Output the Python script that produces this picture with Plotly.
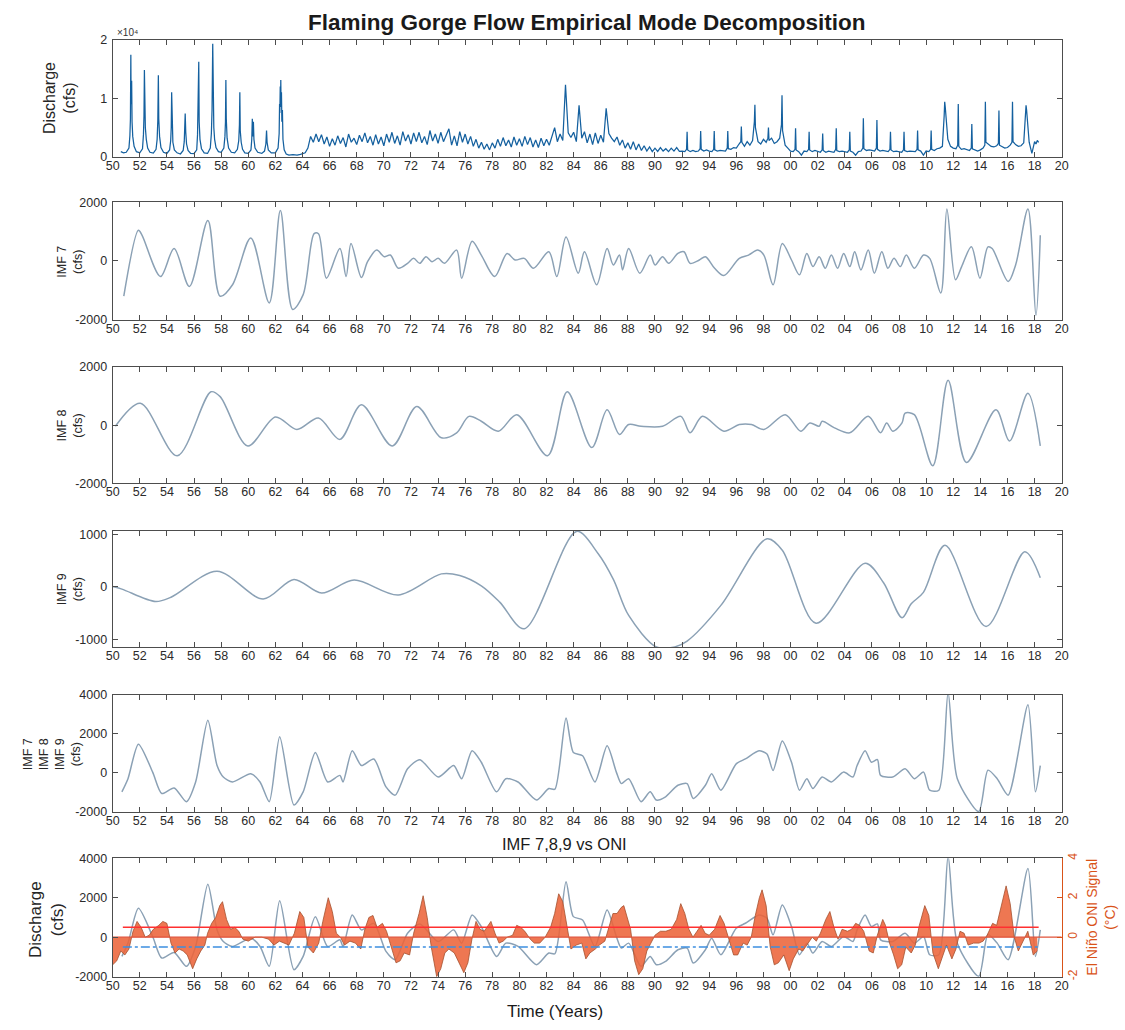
import plotly.graph_objects as go

FONT = "Liberation Sans, Arial, Helvetica, sans-serif"

# ---------------- Discharge record (cfs) ----------------
# pre-dam spring snowmelt years
pre_dam_t = [1950.60, 1950.80, 1951.00, 1951.20, 1951.27, 1951.31, 1951.34, 1951.36, 1951.40, 1951.43,
             1951.48, 1951.58, 1951.75, 1952.00, 1952.20, 1952.27, 1952.31, 1952.34, 1952.37, 1952.41,
             1952.48, 1952.58, 1952.75, 1953.00, 1953.20, 1953.28, 1953.33, 1953.37, 1953.40, 1953.46,
             1953.56, 1953.75, 1954.00, 1954.20, 1954.28, 1954.32, 1954.35, 1954.38, 1954.44, 1954.55,
             1954.75, 1955.00, 1955.20, 1955.28, 1955.32, 1955.35, 1955.39, 1955.45, 1955.56, 1955.75,
             1956.00, 1956.20, 1956.26, 1956.28, 1956.31, 1956.35, 1956.38, 1956.44, 1956.55, 1956.75,
             1957.00, 1957.20, 1957.28, 1957.33, 1957.38, 1957.41, 1957.46, 1957.52, 1957.62, 1957.80,
             1958.00, 1958.20, 1958.28, 1958.32, 1958.35, 1958.38, 1958.44, 1958.55, 1958.75, 1959.00,
             1959.20, 1959.30, 1959.35, 1959.38, 1959.41, 1959.48, 1959.58, 1959.75, 1960.00, 1960.20,
             1960.26, 1960.30, 1960.33, 1960.38, 1960.42, 1960.50, 1960.70, 1961.00, 1961.20, 1961.30,
             1961.35, 1961.39, 1961.48, 1961.70, 1962.00, 1962.20, 1962.28, 1962.31, 1962.33, 1962.36,
             1962.38, 1962.40, 1962.42, 1962.45, 1962.48, 1962.52, 1962.56, 1962.65, 1962.80, 1963.00,
             1963.30, 1963.60, 1963.85]
pre_dam_q = [900, 700, 800, 1500, 3600, 6500, 17400, 9000, 13000, 6000,
             3500, 1800, 900, 700, 1400, 3800, 7000, 14800, 8000, 5000,
             3000, 1500, 800, 650, 1300, 3000, 6200, 13900, 6500, 3500,
             1600, 800, 600, 1200, 2800, 5000, 11000, 5500, 2500, 1200,
             700, 500, 1100, 2600, 4500, 7400, 4200, 2200, 1100, 600,
             550, 1200, 3800, 6500, 5000, 16200, 6000, 3000, 1400, 700,
             600, 1500, 4000, 8000, 19300, 9500, 5000, 3000, 1600, 900,
             800, 1500, 3500, 6000, 13100, 6500, 3200, 1500, 800, 700,
             1300, 2800, 5500, 11000, 4500, 2500, 1300, 700, 600, 1200,
             3000, 6500, 3500, 6000, 3000, 1500, 800, 600, 1000, 2200,
             4500, 2500, 1200, 700, 700, 1500, 4000, 9000, 7500, 12000,
             8500, 13100, 9000, 11000, 6000, 8000, 3000, 1200, 500, 300,
             400, 300, 450]

# regulated releases 1964-1991, sampled five times a year
band_years = list(range(1964, 1992))
band_offsets = [0.0, 0.2, 0.4, 0.6, 0.8]
band_q = [
    [600, 700, 1500, 3500, 2500],
    [3900, 2600, 3800, 2200, 3400],
    [1800, 3100, 2000, 3600, 2300],
    [3300, 1700, 3900, 2500, 3200],
    [2100, 3700, 2600, 4100, 2400],
    [3500, 2000, 3800, 2200, 3400],
    [1900, 3900, 2500, 4200, 2300],
    [3600, 2000, 4300, 2700, 3800],
    [2200, 4100, 2600, 4200, 2400],
    [3500, 2100, 4500, 2700, 3900],
    [2300, 4200, 2600, 3800, 4800],
    [2000, 3600, 1900, 4300, 2500],
    [3900, 2200, 3500, 1800, 3000],
    [1500, 2500, 1300, 2200, 1200],
    [2400, 1500, 3000, 1800, 3300],
    [1900, 2900, 1700, 3400, 2000],
    [3100, 1800, 3500, 2100, 3300],
    [1700, 2900, 1600, 3200, 1900],
    [3000, 2000, 3600, 5000, 2600],
    [3900, 2800, 12300, 4100, 3300],
    [4200, 2600, 8800, 3200, 4300],
    [2400, 3900, 2100, 4100, 2300],
    [3700, 2500, 8300, 4000, 3200],
    [2600, 3400, 2000, 2900, 1500],
    [2400, 1300, 2600, 1200, 2200],
    [1100, 1900, 1000, 1700, 900],
    [1500, 950, 1600, 1000, 1400],
    [900, 1500, 1000, 1600, 950],
]

# 1992-2017 releases with the spring peak-flow pulse
release_years = list(range(1992, 2018))
release_offsets = [0.00, 0.20, 0.33, 0.37, 0.41, 0.60, 0.80]
release_q = [
    [1000, 900, 1300, 4300, 1200, 900, 1100],
    [900, 1000, 1400, 4400, 1300, 1000, 1200],
    [1000, 900, 1300, 4400, 1200, 1000, 1100],
    [1100, 1000, 1500, 4400, 1400, 1300, 1600],
    [1500, 2200, 2600, 5200, 2500, 1800, 2600],
    [2000, 2800, 6000, 8900, 5000, 2600, 2200],
    [3000, 2500, 3200, 5000, 2800, 3200, 2300],
    [2600, 3200, 5500, 10500, 4500, 2000, 1500],
    [1000, 900, 1300, 4900, 1200, 900, 300],
    [1000, 900, 1300, 4300, 1200, 900, 1100],
    [900, 800, 1200, 4000, 1100, 800, 1000],
    [900, 800, 1300, 4900, 1100, 900, 1000],
    [900, 800, 1200, 4300, 1000, 800, 300],
    [900, 1000, 1500, 6600, 1400, 1100, 1200],
    [1100, 1000, 1500, 6300, 1300, 1000, 1100],
    [1000, 900, 1300, 4300, 1200, 900, 1000],
    [900, 800, 1200, 4300, 1100, 900, 1000],
    [900, 900, 1300, 4500, 1200, 1000, 300],
    [1000, 900, 1300, 4500, 1300, 1100, 1400],
    [1500, 1800, 7000, 9400, 8500, 3000, 1800],
    [1500, 1400, 2000, 9000, 1800, 1300, 1400],
    [1300, 1100, 1500, 5600, 1400, 1200, 1000],
    [1200, 1500, 2000, 9400, 2500, 2200, 1800],
    [1700, 1900, 2300, 7900, 2000, 1800, 1500],
    [1600, 2000, 2500, 9400, 2600, 2100, 1800],
    [1900, 2400, 7000, 8800, 8000, 2500, 600],
]
tail_t = [2018.00, 2018.10, 2018.20, 2018.30]
tail_q = [2600, 2200, 2800, 2500]

# ---------------- IMF components (cfs) ----------------
imf7_t = [1950.82, 1951.90, 1952.17, 1953.53, 1954.53, 1955.66, 1957.02, 1957.93, 1958.84, 1960.19,
          1961.55, 1962.37, 1963.28, 1964.05, 1964.86, 1965.18, 1965.77, 1966.76, 1967.22, 1967.58,
          1968.35, 1968.80, 1969.48, 1970.03, 1970.48, 1971.07, 1971.75, 1972.20, 1972.65, 1973.11,
          1973.56, 1974.01, 1974.47, 1975.37, 1975.74, 1976.51, 1977.19, 1978.18, 1979.09, 1979.68,
          1980.36, 1981.04, 1982.17, 1982.76, 1983.44, 1984.34, 1984.80, 1985.70, 1986.47, 1986.93,
          1987.38, 1987.61, 1988.06, 1988.88, 1989.65, 1990.01, 1990.56, 1991.01, 1991.69, 1992.14,
          1992.59, 1993.27, 1993.72, 1994.40, 1995.08, 1996.22, 1996.90, 1997.58, 1998.03, 1998.71,
          1999.39, 2000.07, 2000.66, 2001.20, 2001.65, 2002.11, 2002.56, 2003.01, 2003.47, 2003.92,
          2004.37, 2004.73, 2005.19, 2005.73, 2006.18, 2006.73, 2007.18, 2007.63, 2008.09, 2008.54,
          2009.13, 2009.81, 2010.26, 2011.08, 2011.53, 2012.17, 2012.62, 2013.34, 2013.97, 2014.56,
          2014.87, 2016.05, 2016.60, 2017.51, 2018.10, 2018.42]
imf7_v = [-1200, 1045, 877, -528, 427, -866, 1383, -1200, -810, 787,
          -1427, 1720, -1650, -1146, 933, 930, -584, 427, -528, 596,
          -562, -22, 371, 146, 202, -247, -80, 90, -80, 146,
          -22, 90, -80, 371, -584, 674, 202, -528, 258, 34,
          90, -247, 315, -528, 820, -416, 315, -810, 427, -135,
          202, -303, 427, -416, 202, -135, 146, -80, 258, 315,
          -80, 34, 146, -247, -495, 90, 202, 371, 202, -810,
          596, 34, -472, 258, -191, 146, -247, 202, -247, 258,
          -191, 315, -303, 371, -416, 315, -247, 90, -191, 202,
          -247, 202, 90, -1090, 1776, -640, -191, 483, -584, 483,
          427, -697, -135, 1776, -1850, 877]

imf8_t = [1950.20, 1952.04, 1954.76, 1957.25, 1957.93, 1959.97, 1962.01, 1963.59, 1965.18, 1966.76,
          1968.35, 1970.62, 1972.43, 1974.24, 1975.37, 1976.28, 1977.19, 1978.45, 1979.81, 1982.08,
          1983.53, 1985.34, 1986.47, 1987.38, 1988.06, 1988.97, 1990.56, 1991.91, 1992.59, 1993.50,
          1995.08, 1996.22, 1997.12, 1998.03, 1999.61, 2000.75, 2001.43, 2002.11, 2002.33, 2003.24,
          2004.37, 2005.73, 2006.64, 2007.09, 2007.54, 2008.22, 2008.45, 2009.13, 2010.49, 2011.62,
          2012.98, 2015.15, 2016.15, 2017.51, 2018.42]
imf8_v = [-34, 757, -1050, 1150, 983, -712, 283, -147, 249, -486,
          700, -712, 644, -430, -260, 305, 136, -203, 362, -1050,
          1150, -768, 531, -316, 23, -34, -34, 305, -260, 305,
          -203, 23, 23, -147, 362, -203, 79, -34, 136, -90,
          -260, 305, -260, 79, -203, 79, 418, 362, -1390, 1548,
          -1277, 531, -542, 1096, -712]

imf9_t = [1950.00, 1950.68, 1953.17, 1954.30, 1957.70, 1961.10, 1963.37, 1965.41, 1967.81, 1971.07,
          1974.24, 1975.60, 1977.19, 1978.55, 1980.36, 1984.21, 1985.80, 1986.93, 1988.06, 1990.10,
          1991.46, 1992.37, 1994.86, 1998.26, 1999.39, 2001.88, 2005.50, 2006.86, 2008.22, 2008.90,
          2009.80, 2011.39, 2014.42, 2017.28, 2018.42]
imf9_v = [6, -43, -280, -198, 297, -229, 142, -118, 130, -155,
          248, 217, 19, -291, -798, 1058, 637, 142, -545, -1145,
          -1145, -1034, -353, 916, 700, -693, 452, 80, -588, -322,
          -105, 792, -755, 668, 173]

imf_sum_t = [1950.68, 1951.13, 1951.90, 1952.95, 1953.62, 1954.53, 1955.44, 1956.12, 1957.02, 1957.70,
             1958.16, 1958.84, 1960.19, 1960.87, 1961.55, 1962.32, 1963.37, 1964.05, 1964.95, 1965.86,
             1966.76, 1966.99, 1967.67, 1968.35, 1969.26, 1970.16, 1970.84, 1971.75, 1972.65, 1974.01,
             1975.15, 1975.74, 1976.51, 1977.19, 1978.32, 1979.00, 1979.90, 1981.26, 1982.17, 1982.62,
             1983.44, 1983.98, 1984.66, 1985.57, 1986.47, 1987.15, 1987.52, 1988.06, 1988.97, 1989.65,
             1990.10, 1990.78, 1991.69, 1992.37, 1992.82, 1993.72, 1994.18, 1994.86, 1995.99, 1996.67,
             1997.67, 1998.26, 1998.71, 1999.39, 2000.07, 2000.66, 2001.20, 2001.65, 2002.33, 2003.01,
             2003.92, 2004.60, 2004.91, 2005.50, 2005.96, 2006.41, 2006.64, 2007.54, 2008.45, 2009.13,
             2009.81, 2010.26, 2010.94, 2011.62, 2012.30, 2013.88, 2014.56, 2015.24, 2016.05, 2017.51,
             2018.06, 2018.42]
imf_sum_v = [-975, -302, 1462, 34, -1058, -773, -1478, -470, 2688, 370,
             -218, -470, -50, -470, -1478, 1848, -1646, -974, 1042, -470,
             -134, -470, 1126, 370, 706, -722, -1142, 202, 672, -218,
             370, -302, 1126, 538, -975, -302, -470, -1394, -806, -840,
             2806, 1042, 874, -470, 1378, 34, -554, -302, -1478, -974,
             -1394, -1226, -638, -554, -1310, -638, -50, -890, 454, 706,
             1126, 958, 118, 1630, 538, -890, -302, -806, -218, -470,
             34, -218, 370, 1126, 538, 672, -134, -218, 202, -302,
             34, -890, -890, 4100, -302, -1982, 134, -302, -1142, 3478,
             -975, 370]

# ---------------- Oceanic Nino Index (deg C) ----------------
oni_t = [1950.0, 1950.3, 1950.6, 1950.9, 1951.2, 1951.5, 1951.8, 1952.1, 1952.4, 1952.7,
         1953.0, 1953.4, 1953.7, 1954.0, 1954.3, 1954.6, 1954.9, 1955.2, 1955.5, 1955.9,
         1956.2, 1956.5, 1956.8, 1957.0, 1957.3, 1957.6, 1957.9, 1958.1, 1958.4, 1958.7,
         1959.0, 1959.3, 1959.6, 1960.0, 1960.5, 1961.0, 1961.5, 1961.9, 1962.3, 1962.7,
         1963.0, 1963.4, 1963.8, 1964.1, 1964.4, 1964.8, 1965.2, 1965.5, 1965.9, 1966.2,
         1966.5, 1966.8, 1967.1, 1967.5, 1967.9, 1968.3, 1968.6, 1968.9, 1969.2, 1969.5,
         1969.9, 1970.2, 1970.5, 1970.9, 1971.2, 1971.5, 1971.9, 1972.2, 1972.6, 1972.9,
         1973.2, 1973.5, 1973.9, 1974.2, 1974.5, 1974.8, 1975.2, 1975.5, 1975.9, 1976.2,
         1976.5, 1976.8, 1977.1, 1977.4, 1977.7, 1977.9, 1978.2, 1978.5, 1978.8, 1979.1,
         1979.5, 1979.8, 1980.1, 1980.4, 1980.8, 1981.1, 1981.5, 1981.9, 1982.3, 1982.6,
         1982.9, 1983.2, 1983.5, 1983.8, 1984.2, 1984.6, 1984.9, 1985.2, 1985.6, 1985.9,
         1986.3, 1986.6, 1986.9, 1987.2, 1987.5, 1987.7, 1987.9, 1988.2, 1988.5, 1988.8,
         1989.1, 1989.4, 1989.7, 1990.0, 1990.4, 1990.8, 1991.2, 1991.6, 1991.9, 1992.2,
         1992.5, 1992.8, 1993.1, 1993.4, 1993.7, 1994.0, 1994.4, 1994.8, 1995.1, 1995.4,
         1995.8, 1996.1, 1996.5, 1996.8, 1997.1, 1997.4, 1997.7, 1997.9, 1998.2, 1998.5,
         1998.8, 1999.1, 1999.5, 1999.9, 2000.2, 2000.6, 2000.9, 2001.2, 2001.6, 2001.9,
         2002.2, 2002.6, 2002.9, 2003.2, 2003.5, 2003.8, 2004.2, 2004.5, 2004.8, 2005.1,
         2005.4, 2005.8, 2006.1, 2006.4, 2006.8, 2007.0, 2007.3, 2007.6, 2007.9, 2008.2,
         2008.5, 2008.9, 2009.2, 2009.5, 2009.9, 2010.2, 2010.5, 2010.9, 2011.2, 2011.5,
         2011.9, 2012.2, 2012.5, 2012.8, 2013.1, 2013.5, 2013.9, 2014.2, 2014.5, 2014.9,
         2015.2, 2015.5, 2015.9, 2016.2, 2016.5, 2016.8, 2017.1, 2017.5, 2017.9, 2018.2]
oni_v = [-1.4, -1.2, -0.7, -0.9, -0.6, 0.3, 0.8, 0.5, 0.0, 0.1,
         0.4, 0.6, 0.8, 0.7, -0.3, -0.8, -0.6, -0.7, -0.9, -1.6,
         -1.1, -0.7, -0.4, 0.2, 0.7, 1.0, 1.6, 1.8, 0.9, 0.4,
         0.5, 0.3, -0.1, -0.2, 0.0, 0.0, -0.1, -0.4, -0.2, -0.3,
         -0.4, 0.2, 1.3, 1.0, -0.5, -0.8, -0.3, 0.8, 2.0, 1.3,
         0.2, 0.0, -0.4, -0.2, -0.3, -0.6, 0.4, 1.0, 1.1, 0.5,
         0.7, 0.3, -0.4, -1.3, -1.2, -0.8, -0.9, 0.2, 1.2, 2.1,
         1.0, -0.5, -2.0, -1.6, -0.8, -0.6, -0.8, -1.2, -1.8, -1.3,
         -0.1, 0.8, 0.4, 0.3, 0.6, 0.8, 0.2, -0.3, -0.2, 0.0,
         0.1, 0.6, 0.5, 0.3, -0.1, -0.3, -0.3, 0.0, 0.5, 1.2,
         2.2, 1.8, 0.6, -0.6, -0.4, -0.3, -1.1, -0.8, -0.6, -0.4,
         -0.2, 0.5, 1.2, 1.2, 1.5, 1.6, 1.1, 0.4, -1.2, -1.9,
         -1.6, -0.7, -0.3, 0.1, 0.3, 0.3, 0.4, 0.9, 1.7, 1.2,
         0.4, 0.0, 0.3, 0.6, 0.2, 0.1, 0.4, 1.1, 0.7, 0.0,
         -0.9, -0.9, -0.3, -0.4, 0.0, 1.1, 2.0, 2.4, 1.6, -0.5,
         -1.4, -1.3, -0.9, -1.7, -1.1, -0.6, -0.7, -0.4, 0.0, -0.2,
         0.2, 0.9, 1.3, 0.5, -0.1, 0.4, 0.3, 0.4, 0.7, 0.6,
         0.3, -0.7, -0.8, 0.1, 0.9, 0.6, -0.3, -0.9, -1.6, -1.4,
         -0.5, -0.8, -0.4, 0.6, 1.6, 1.1, -0.8, -1.6, -1.0, -0.4,
         -1.1, -0.6, 0.3, 0.2, -0.4, -0.3, -0.3, -0.2, 0.1, 0.7,
         0.6, 1.5, 2.6, 1.7, 0.0, -0.7, -0.3, 0.3, -0.9, -0.7]

# El Nino / La Nina thresholds and the span they are drawn over
oni_warm = 0.5
oni_cool = -0.5
threshold_span = [1950.75, 2018.3]

year_ticks = list(range(1950, 2021, 2))
year_labels = [f"{y % 100:02d}" for y in year_ticks]

# ---------------- assemble the discharge series ----------------
flow_t = list(pre_dam_t)
flow_q = list(pre_dam_q)
for yr, row in zip(band_years, band_q):
    for off, q in zip(band_offsets, row):
        flow_t.append(yr + off)
        flow_q.append(q)
for yr, row in zip(release_years, release_q):
    for off, q in zip(release_offsets, row):
        flow_t.append(yr + off)
        flow_q.append(q)
flow_t += tail_t
flow_q += tail_q

# ---------------- layout geometry (paper fractions) ----------------
W, H = 1125, 1030
x_dom = [107 / W, 1068 / W]
panel_px = [(33, 152), (198, 317), (365, 483), (531, 649), (697, 816), (863, 983)]
y_doms = [[1 - b / H, 1 - t / H] for t, b in panel_px]

IMF_COLOR = "#8ba1b5"
AXIS_COLOR = "#4d4d4d"
TICK_FONT = dict(family=FONT, size=12.5, color="#2b2b2b")
ONI_COLOR = "#D95319"

fig = go.Figure()

fig.add_trace(go.Scatter(x=flow_t, y=flow_q, mode="lines", xaxis="x", yaxis="y",
                         line=dict(color="#14609f", width=1.25), showlegend=False))
fig.add_trace(go.Scatter(x=imf7_t, y=imf7_v, mode="lines", xaxis="x2", yaxis="y2",
                         line=dict(color=IMF_COLOR, width=1.5, shape="spline", smoothing=0.9),
                         showlegend=False))
fig.add_trace(go.Scatter(x=imf8_t, y=imf8_v, mode="lines", xaxis="x3", yaxis="y3",
                         line=dict(color=IMF_COLOR, width=1.5, shape="spline", smoothing=0.9),
                         showlegend=False))
fig.add_trace(go.Scatter(x=imf9_t, y=imf9_v, mode="lines", xaxis="x4", yaxis="y4",
                         line=dict(color=IMF_COLOR, width=1.5, shape="spline", smoothing=0.9),
                         showlegend=False))
fig.add_trace(go.Scatter(x=imf_sum_t, y=imf_sum_v, mode="lines", xaxis="x5", yaxis="y5",
                         line=dict(color=IMF_COLOR, width=1.5, shape="spline", smoothing=0.7),
                         showlegend=False))
fig.add_trace(go.Scatter(x=imf_sum_t, y=imf_sum_v, mode="lines", xaxis="x6", yaxis="y6",
                         line=dict(color=IMF_COLOR, width=1.5, shape="spline", smoothing=0.7),
                         showlegend=False))
# ONI signal on the right-hand axis
fig.add_trace(go.Scatter(x=oni_t, y=oni_v, mode="lines", xaxis="x6", yaxis="y7",
                         fill="tozeroy", fillcolor="rgba(236,100,58,0.88)",
                         line=dict(color="#a5502f", width=0.8), showlegend=False))
fig.add_trace(go.Scatter(x=[1950, 2020], y=[0, 0], mode="lines", xaxis="x6", yaxis="y7",
                         line=dict(color="#e0523a", width=1.2), showlegend=False))
fig.add_trace(go.Scatter(x=threshold_span, y=[oni_warm, oni_warm], mode="lines", xaxis="x6", yaxis="y7",
                         line=dict(color="#ff3030", width=1.5), showlegend=False))
fig.add_trace(go.Scatter(x=threshold_span, y=[oni_cool, oni_cool], mode="lines", xaxis="x6", yaxis="y7",
                         line=dict(color="#3d8ee0", width=1.5, dash="dashdot"), showlegend=False))

y_ranges = [[0, 20000], [-2000, 2000], [-2000, 2000], [-1150, 1070], [-2000, 4000], [-2000, 4000]]
y_tickvals = [[0, 10000, 20000], [-2000, 0, 2000], [-2000, 0, 2000], [-1000, 0, 1000],
              [-2000, 0, 2000, 4000], [-2000, 0, 2000, 4000]]
y_ticktext = [["0", "1", "2"], ["-2000", "0", "2000"], ["-2000", "0", "2000"],
              ["-1000", "0", "1000"], ["-2000", "0", "2000", "4000"], ["-2000", "0", "2000", "4000"]]

layout = dict(width=W, height=H, margin=dict(l=0, r=0, t=0, b=0),
              paper_bgcolor="white", plot_bgcolor="white", showlegend=False)

for i in range(6):
    sx = "" if i == 0 else str(i + 1)
    layout["xaxis" + sx] = dict(
        domain=x_dom, anchor="y" + sx, range=[1950, 2020],
        tickmode="array", tickvals=year_ticks, ticktext=year_labels,
        ticks="inside", ticklen=5, tickwidth=1, tickcolor=AXIS_COLOR,
        showline=True, linecolor=AXIS_COLOR, linewidth=1, mirror="ticks",
        showgrid=False, zeroline=False, tickfont=TICK_FONT, ticklabelstandoff=-3)
    layout["yaxis" + sx] = dict(
        domain=y_doms[i], anchor="x" + sx, range=y_ranges[i],
        tickmode="array", tickvals=y_tickvals[i], ticktext=y_ticktext[i],
        ticks="inside", ticklen=5, tickwidth=1, tickcolor=AXIS_COLOR,
        showline=True, linecolor=AXIS_COLOR, linewidth=1,
        mirror="ticks" if i < 5 else False,
        showgrid=False, zeroline=False, tickfont=TICK_FONT, ticklabelstandoff=2)

layout["yaxis7"] = dict(
    overlaying="y6", anchor="x6", side="right", range=[-2, 4],
    tickmode="array", tickvals=[-2, 0, 2, 4], ticktext=["-2", "0", "2", "4"],
    ticks="inside", ticklen=5, tickcolor=ONI_COLOR, tickangle=-90,
    showline=True, linecolor=ONI_COLOR, linewidth=1,
    showgrid=False, zeroline=False,
    tickfont=dict(family=FONT, size=12, color=ONI_COLOR))


def ytitle(text, xpx, ypx, size, color="#262626", angle=-90):
    return dict(text=text, x=xpx / W, y=1 - ypx / H, xref="paper", yref="paper",
                showarrow=False, textangle=angle, xanchor="center", yanchor="middle",
                font=dict(family=FONT, size=size, color=color))


annotations = [
    dict(text="<b>Flaming Gorge Flow Empirical Mode Decomposition</b>", x=587 / W, y=1 - 16 / H,
         xref="paper", yref="paper", showarrow=False, xanchor="center", yanchor="middle",
         font=dict(family=FONT, size=22.5, color="#1a1a1a")),
    dict(text="\u00d710\u2074", x=109 / W, y=1 - 26 / H, xref="paper", yref="paper",
         showarrow=False, xanchor="left", yanchor="middle",
         font=dict(family=FONT, size=10, color="#333333")),
    ytitle("Discharge<br>(cfs)", 53, 92, 16),
    ytitle("IMF 7<br>(cfs)", 64, 258, 12.5),
    ytitle("IMF 8<br>(cfs)", 64, 424, 12.5),
    ytitle("IMF 9<br>(cfs)", 64, 590, 12.5),
    ytitle("IMF 7<br>IMF 8<br>IMF 9<br>(cfs)", 46, 757, 12.5),
    ytitle("Discharge<br>(cfs)", 40, 925, 17),
    ytitle("El Ni\u00f1o ONI Signal<br>(\u00b0C)", 1108, 923, 14, color=ONI_COLOR),
    dict(text="IMF 7,8,9 vs ONI", x=565 / W, y=1 - 849 / H, xref="paper", yref="paper",
         showarrow=False, xanchor="center", yanchor="middle",
         font=dict(family=FONT, size=16.5, color="#1a1a1a")),
    dict(text="Time (Years)", x=555 / W, y=1 - 1018 / H, xref="paper", yref="paper",
         showarrow=False, xanchor="center", yanchor="middle",
         font=dict(family=FONT, size=17, color="#1a1a1a")),
]
layout["annotations"] = annotations
fig.update_layout(**layout)

fig.write_html("out.html")
